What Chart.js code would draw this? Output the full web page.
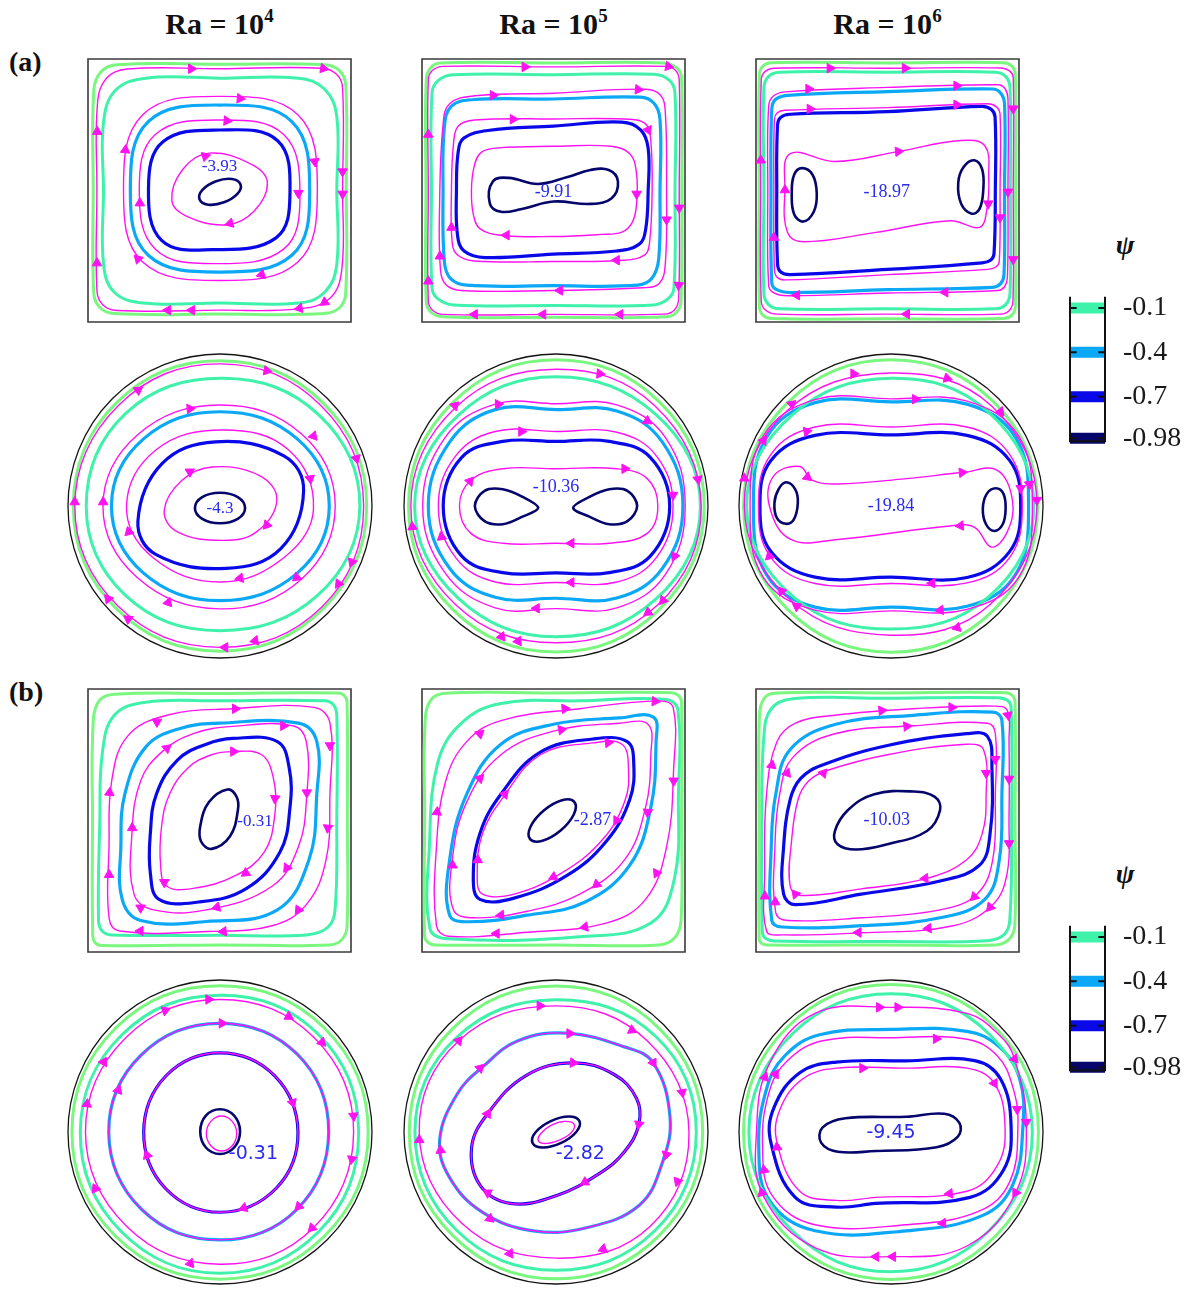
<!DOCTYPE html>
<html>
<head>
<meta charset="utf-8">
<script src="https://cdn.jsdelivr.net/npm/chart.js@4.4.1/dist/chart.umd.min.js"></script>
<style>
  html, body { margin: 0; padding: 0; background: #fff; }
  #page { position: relative; width: 1194px; height: 1289px; overflow: hidden; }
  #page canvas { position: absolute; }
  .hdr { position: absolute; width: 220px; text-align: center; font: bold 30px "Liberation Serif", "Times New Roman", serif; line-height: 30px; color: #111; white-space: nowrap; }
  .hdr sup { font-size: 19px; vertical-align: 12px; line-height: 0; }
  .tag { position: absolute; left: 9px; font: bold 28px "Liberation Serif", serif; line-height: 28px; color: #111; }
  .psi { position: absolute; width: 40px; text-align: center; font: bold italic 28px "Liberation Serif", serif; line-height: 28px; color: #111; }
</style>
</head>
<body>
<div id="page"></div>
<script>
// =========================================================
// Datos: isolineas de la funcion de corriente (coordenadas del dominio)
// cuadrado: x,y en [0,1]; circulo: x,y en [-1,1]. Cada linea = [nivel, x1,y1, x2,y2, ...]
// =========================================================
const raExponents = ['4', '5', '6'];
const rowTags = ['(a)', '(b)'];
const psiLevels = [-0.1, -0.4, -0.7, -0.98];
const psiLabels = ['-0.1', '-0.4', '-0.7', '-0.98'];
const psiRange = [-1.0, -0.025];

// ---------- (a) Ra = 1e4 ----------
const sqA4 = [
  ['g1', [0.5,0.98, 0.9,0.978, 0.957,0.955, 0.98,0.9, 0.982,0.5, 0.98,0.11, 0.957,0.055, 0.9,0.032, 0.5,0.03, 0.1,0.032, 0.045,0.055, 0.022,0.11, 0.02,0.5, 0.022,0.88, 0.048,0.95, 0.11,0.978]],
  ['g2', [0.5,0.927, 0.8,0.927, 0.9,0.885, 0.946,0.78, 0.946,0.5, 0.946,0.22, 0.9,0.113, 0.8,0.072, 0.5,0.072, 0.21,0.072, 0.1,0.113, 0.059,0.22, 0.059,0.5, 0.059,0.76, 0.104,0.88, 0.22,0.927]],
  ['c',  [0.5,0.825, 0.775,0.762, 0.843,0.49, 0.775,0.254, 0.5,0.19, 0.229,0.254, 0.161,0.5, 0.229,0.762]],
  ['b',  [0.5,0.73, 0.72,0.69, 0.768,0.49, 0.715,0.32, 0.47,0.275, 0.28,0.31, 0.23,0.51, 0.285,0.685]],
  ['n',  [0.58,0.523, 0.547,0.544, 0.487,0.535, 0.436,0.503, 0.424,0.467, 0.457,0.446, 0.517,0.455, 0.568,0.487]],
  ['m',  [0.5,0.963, 0.89,0.965, 0.945,0.942, 0.968,0.89, 0.968,0.5, 0.965,0.2, 0.92,0.09, 0.8,0.05, 0.5,0.045, 0.11,0.044, 0.056,0.066, 0.034,0.12, 0.034,0.5, 0.036,0.83, 0.07,0.927, 0.15,0.962]],
  ['m',  [0.5,0.858, 0.798,0.788, 0.872,0.5, 0.798,0.228, 0.5,0.158, 0.208,0.228, 0.135,0.5, 0.208,0.788]],
  ['m',  [0.5,0.768, 0.744,0.713, 0.806,0.48, 0.744,0.277, 0.48,0.222, 0.256,0.277, 0.195,0.5, 0.256,0.713]],
  ['m',  [0.46,0.642, 0.62,0.6, 0.682,0.53, 0.63,0.42, 0.53,0.37, 0.38,0.4, 0.319,0.46, 0.36,0.58]],
];
const sqA4Arrows = [
  [0.393,0.963,90],[0.895,0.964,100],[0.968,0.572,180],[0.968,0.487,180],[0.9,0.075,235],[0.804,0.052,260],[0.395,0.045,270],[0.304,0.045,270],[0.034,0.224,0],[0.035,0.724,0],
  [0.578,0.85,95],[0.862,0.61,175],[0.66,0.18,255],[0.19,0.24,315],[0.142,0.654,5],
  [0.528,0.765,95],[0.8,0.49,180],[0.197,0.452,0],
  [0.446,0.63,75],[0.54,0.375,255]
];
const sqA4Label = [0.5, 0.59, '-3.93'];

const crA4 = [
  ['g1', [0,0.955, 0.68,0.677, 0.965,0, 0.677,-0.677, 0,-0.955, -0.68,-0.677, -0.965,0, -0.68,0.68]],
  ['g2', [0.02,0.84, 0.65,0.6, 0.92,0, 0.64,-0.59, 0,-0.82, -0.62,-0.59, -0.88,0, -0.62,0.61]],
  ['c',  [0,0.62, 0.51,0.44, 0.719,0, 0.51,-0.44, 0,-0.622, -0.505,-0.44, -0.714,0, -0.505,0.44]],
  ['b',  [-0.03,0.422, 0.42,0.33, 0.55,0.1, 0.4,-0.28, 0.04,-0.41, -0.42,-0.32, -0.54,-0.1, -0.38,0.28]],
  ['n',  [0,0.087, 0.117,0.058, 0.165,-0.013, 0.117,-0.084, 0,-0.113, -0.117,-0.084, -0.165,-0.013, -0.117,0.058]],
  ['m',  [0,0.935, 0.665,0.66, 0.945,0, 0.67,-0.665, 0,-0.93, -0.67,-0.66, -0.955,0, -0.665,0.665]],
  ['m',  [0,0.664, 0.537,0.474, 0.758,0, 0.537,-0.48, 0,-0.677, -0.545,-0.47, -0.77,0, -0.54,0.47]],
  ['m',  [0.02,0.5, 0.45,0.37, 0.615,-0.02, 0.42,-0.34, 0,-0.5, -0.44,-0.34, -0.615,0, -0.42,0.37]],
  ['m',  [-0.05,0.257, 0.26,0.2, 0.374,0.04, 0.24,-0.17, 0.02,-0.226, -0.28,-0.17, -0.367,-0.03, -0.25,0.17]],
];
const crA4Arrows = [
  [0.308,0.89,100],[-0.538,0.763,55],[0.897,0.312,165],[0.868,-0.369,200],[0.78,-0.512,215],[0.231,-0.886,260],[0.033,-0.93,270],[-0.604,-0.743,305],[-0.736,-0.611,320],[-0.956,0.026,0],
  [-0.198,0.64,85],[0.615,0.46,140],[0.505,-0.47,230],[-0.341,-0.635,260],[-0.769,0.026,0],
  [0.593,0.18,170],[0.132,-0.475,260],[-0.6,-0.17,345],
  [-0.198,0.225,60],[0.308,-0.125,220]
];
const crA4Label = [0, -0.015, '-4.3'];

// ---------- (a) Ra = 1e5 ----------
const sqA5 = [
  ['g1', [0.5,0.985, 0.92,0.985, 0.969,0.966, 0.987,0.93, 0.988,0.5, 0.985,0.08, 0.968,0.037, 0.93,0.02, 0.5,0.018, 0.08,0.02, 0.034,0.037, 0.016,0.08, 0.015,0.5, 0.016,0.92, 0.033,0.967, 0.07,0.985]],
  ['g2', [0.5,0.94, 0.88,0.942, 0.94,0.92, 0.962,0.87, 0.962,0.5, 0.958,0.13, 0.935,0.088, 0.88,0.065, 0.5,0.063, 0.12,0.065, 0.061,0.088, 0.038,0.13, 0.036,0.5, 0.038,0.87, 0.061,0.918, 0.12,0.94]],
  ['c',  [0.5,0.848, 0.83,0.855, 0.882,0.832, 0.905,0.77, 0.905,0.5, 0.9,0.24, 0.874,0.166, 0.82,0.14, 0.5,0.138, 0.17,0.14, 0.108,0.166, 0.085,0.23, 0.08,0.5, 0.085,0.74, 0.111,0.82, 0.19,0.845]],
  ['b',  [0.5,0.745, 0.76,0.76, 0.832,0.73, 0.86,0.66, 0.86,0.5, 0.85,0.35, 0.825,0.295, 0.74,0.27, 0.5,0.258, 0.24,0.245, 0.16,0.27, 0.135,0.33, 0.131,0.5, 0.138,0.65, 0.16,0.7, 0.25,0.728]],
  ['n',  [0.27,0.535, 0.33,0.548, 0.44,0.525, 0.55,0.55, 0.64,0.578, 0.71,0.578, 0.745,0.535, 0.72,0.47, 0.64,0.449, 0.5,0.458, 0.38,0.43, 0.3,0.419, 0.258,0.45]],
  ['m',  [0.5,0.97, 0.93,0.972, 0.964,0.957, 0.978,0.92, 0.978,0.5, 0.976,0.09, 0.96,0.046, 0.92,0.03, 0.5,0.029, 0.08,0.029, 0.04,0.045, 0.024,0.08, 0.024,0.5, 0.024,0.92, 0.04,0.957, 0.08,0.972]],
  ['m',  [0.5,0.87, 0.85,0.885, 0.907,0.862, 0.925,0.8, 0.93,0.5, 0.925,0.22, 0.902,0.146, 0.84,0.13, 0.5,0.12, 0.15,0.12, 0.09,0.143, 0.07,0.2, 0.067,0.45, 0.08,0.75, 0.105,0.83, 0.2,0.86]],
  ['m',  [0.5,0.772, 0.8,0.77, 0.853,0.75, 0.87,0.69, 0.875,0.5, 0.865,0.3, 0.847,0.255, 0.77,0.235, 0.5,0.23, 0.2,0.232, 0.135,0.255, 0.115,0.3, 0.112,0.5, 0.12,0.68, 0.138,0.745, 0.2,0.768]],
  ['m',  [0.5,0.668, 0.72,0.668, 0.79,0.64, 0.815,0.57, 0.816,0.45, 0.8,0.38, 0.76,0.342, 0.68,0.333, 0.5,0.325, 0.3,0.33, 0.22,0.355, 0.195,0.41, 0.188,0.5, 0.198,0.59, 0.225,0.645, 0.29,0.662]],
];
const sqA5Arrows = [
  [0.391,0.97,90],[0.937,0.972,100],[0.978,0.434,180],[0.976,0.14,185],[0.753,0.029,270],[0.46,0.029,270],[0.2,0.029,270],[0.024,0.155,0],[0.024,0.713,0],
  [0.27,0.862,90],[0.822,0.884,95],[0.93,0.389,180],[0.524,0.12,270],[0.068,0.25,0],
  [0.346,0.771,90],[0.86,0.73,155],[0.74,0.235,270],[0.112,0.359,0],
  [0.816,0.487,180],[0.321,0.33,270]
];
const sqA5Label = [0.5, 0.495, '-9.91'];

const crA5 = [
  ['g1', [0,0.962, 0.685,0.68, 0.975,0, 0.68,-0.68, 0,-0.96, -0.68,-0.68, -0.97,0, -0.68,0.68]],
  ['g2', [0,0.85, 0.66,0.6, 0.95,0, 0.66,-0.61, 0,-0.86, -0.64,-0.61, -0.93,0, -0.64,0.6]],
  ['c',  [-0.4,0.634, 0,0.634, 0.4,0.625, 0.7,0.42, 0.835,0, 0.7,-0.41, 0.4,-0.605, 0,-0.607, -0.4,-0.6, -0.7,-0.41, -0.84,0, -0.7,0.42]],
  ['b',  [-0.35,0.425, 0,0.425, 0.35,0.425, 0.62,0.32, 0.748,0, 0.62,-0.33, 0.35,-0.438, 0,-0.44, -0.35,-0.438, -0.62,-0.33, -0.742,0, -0.62,0.32]],
  ['n',  [-0.117,-0.012, -0.22,0.06, -0.35,0.11, -0.47,0.1, -0.534,0.0, -0.47,-0.1, -0.35,-0.12, -0.22,-0.07], 0.35],
  ['n',  [0.113,-0.012, 0.22,0.06, 0.35,0.11, 0.47,0.1, 0.534,0.0, 0.47,-0.1, 0.35,-0.12, 0.22,-0.07], 0.35],
  ['m',  [0,0.9, 0.65,0.66, 0.955,0, 0.67,-0.65, 0,-0.9, -0.66,-0.65, -0.955,0, -0.66,0.65]],
  ['m',  [-0.4,0.67, 0,0.673, 0.4,0.665, 0.72,0.45, 0.85,0, 0.72,-0.45, 0.4,-0.67, 0,-0.675, -0.4,-0.67, -0.73,-0.44, -0.877,0, -0.73,0.45]],
  ['m',  [-0.4,0.49, 0,0.49, 0.4,0.485, 0.66,0.33, 0.77,0, 0.66,-0.34, 0.4,-0.5, 0,-0.503, -0.4,-0.5, -0.66,-0.34, -0.774,0, -0.66,0.33]],
  ['m',  [-0.35,0.245, 0,0.245, 0.4,0.245, 0.6,0.18, 0.67,0, 0.6,-0.18, 0.35,-0.245, 0,-0.245, -0.35,-0.245, -0.56,-0.18, -0.635,0, -0.56,0.17]],
];
const crA5Arrows = [
  [0.288,0.87,95],[-0.665,0.66,45],[0.934,0.176,170],[0.704,-0.621,220],[0.606,-0.7,235],[-0.249,-0.89,265],[-0.358,-0.86,262],[-0.945,-0.137,355],
  [-0.38,0.67,88],[0.6,0.56,125],[0.78,-0.33,205],[-0.128,-0.673,270],
  [-0.227,0.49,90],[0.77,0.072,180],[0.1,-0.503,270],[-0.753,-0.203,350],
  [0.452,0.245,90],[0.1,-0.245,270],[-0.566,0.163,40]
];
const crA5Label = [0, 0.124, '-10.36'];

// ---------- (a) Ra = 1e6 ----------
const sqA6 = [
  ['g1', [0.5,0.985, 0.94,0.986, 0.973,0.973, 0.986,0.94, 0.987,0.5, 0.986,0.06, 0.973,0.026, 0.94,0.013, 0.5,0.012, 0.06,0.013, 0.026,0.026, 0.013,0.06, 0.012,0.5, 0.013,0.94, 0.026,0.973, 0.06,0.986]],
  ['g2', [0.5,0.95, 0.91,0.95, 0.95,0.933, 0.966,0.89, 0.967,0.5, 0.966,0.11, 0.95,0.067, 0.91,0.05, 0.5,0.05, 0.09,0.05, 0.047,0.067, 0.03,0.11, 0.03,0.5, 0.03,0.89, 0.047,0.933, 0.09,0.95]],
  ['c',  [0.5,0.876, 0.9,0.886, 0.93,0.871, 0.945,0.83, 0.945,0.5, 0.943,0.18, 0.93,0.146, 0.9,0.132, 0.5,0.123, 0.13,0.112, 0.075,0.125, 0.06,0.15, 0.057,0.5, 0.06,0.81, 0.074,0.846, 0.12,0.862]],
  ['b',  [0.5,0.8, 0.86,0.82, 0.895,0.808, 0.909,0.78, 0.91,0.5, 0.905,0.26, 0.893,0.236, 0.86,0.225, 0.5,0.2, 0.13,0.18, 0.094,0.19, 0.082,0.22, 0.079,0.5, 0.082,0.75, 0.094,0.778, 0.13,0.79]],
  ['n',  [0.175,0.585, 0.215,0.56, 0.231,0.49, 0.22,0.42, 0.18,0.382, 0.145,0.41, 0.136,0.49, 0.145,0.56]],
  ['n',  [0.83,0.615, 0.86,0.58, 0.864,0.5, 0.85,0.43, 0.82,0.412, 0.78,0.45, 0.769,0.53, 0.79,0.59]],
  ['m',  [0.5,0.965, 0.93,0.966, 0.964,0.955, 0.978,0.93, 0.978,0.5, 0.977,0.08, 0.963,0.044, 0.93,0.03, 0.5,0.03, 0.08,0.03, 0.037,0.045, 0.02,0.08, 0.018,0.5, 0.02,0.92, 0.034,0.952, 0.07,0.965]],
  ['m',  [0.5,0.892, 0.92,0.902, 0.947,0.887, 0.958,0.85, 0.958,0.5, 0.956,0.17, 0.945,0.134, 0.92,0.12, 0.5,0.11, 0.12,0.1, 0.066,0.112, 0.048,0.14, 0.045,0.5, 0.048,0.82, 0.066,0.859, 0.11,0.875]],
  ['m',  [0.5,0.815, 0.88,0.83, 0.914,0.818, 0.928,0.79, 0.928,0.5, 0.925,0.23, 0.912,0.209, 0.88,0.2, 0.5,0.18, 0.11,0.16, 0.08,0.17, 0.07,0.2, 0.068,0.5, 0.07,0.77, 0.08,0.795, 0.11,0.805]],
  ['m',  [0.13,0.64, 0.3,0.61, 0.54,0.648, 0.78,0.69, 0.87,0.67, 0.885,0.55, 0.878,0.43, 0.85,0.36, 0.74,0.385, 0.45,0.34, 0.18,0.305, 0.12,0.34, 0.11,0.5]],
];
const sqA6Arrows = [
  [0.281,0.965,90],[0.567,0.965,90],[0.978,0.811,180],[0.978,0.238,180],[0.573,0.03,270],[0.018,0.615,0],
  [0.2,0.886,90],[0.763,0.898,90],[0.958,0.495,180],[0.719,0.113,270],[0.155,0.102,270],
  [0.205,0.81,90],[0.763,0.826,90],[0.928,0.397,180],[0.068,0.321,0],
  [0.541,0.648,85],[0.883,0.45,180],[0.11,0.502,0]
];
const sqA6Label = [0.497, 0.495, '-18.97'];

const crA6 = [
  ['g1', [0,0.962, 0.68,0.68, 0.965,0, 0.68,-0.68, 0,-0.962, -0.68,-0.68, -0.97,0, -0.68,0.68]],
  ['g2', [0,0.84, 0.64,0.62, 0.94,0, 0.64,-0.6, 0,-0.81, -0.64,-0.6, -0.95,0, -0.65,0.6]],
  ['c',  [-0.5,0.68, 0,0.685, 0.5,0.67, 0.82,0.45, 0.905,0, 0.82,-0.45, 0.5,-0.66, 0,-0.665, -0.5,-0.665, -0.82,-0.45, -0.905,0, -0.82,0.45]],
  ['b',  [-0.5,0.465, 0,0.468, 0.5,0.465, 0.78,0.3, 0.853,0, 0.78,-0.3, 0.5,-0.47, 0,-0.468, -0.5,-0.468, -0.79,-0.3, -0.862,0, -0.79,0.3]],
  ['n',  [-0.69,0.156, -0.63,0.11, -0.613,0.02, -0.64,-0.09, -0.69,-0.117, -0.75,-0.08, -0.767,0.02, -0.74,0.11]],
  ['n',  [0.69,0.117, 0.74,0.08, 0.754,-0.02, 0.735,-0.12, 0.68,-0.164, 0.625,-0.12, 0.604,-0.02, 0.63,0.08]],
  ['m',  [0,0.875, 0.66,0.66, 0.96,0, 0.65,-0.65, 0,-0.85, -0.66,-0.62, -0.965,0, -0.68,0.63]],
  ['m',  [-0.5,0.7, 0,0.705, 0.5,0.69, 0.84,0.46, 0.93,0, 0.84,-0.47, 0.5,-0.68, 0,-0.69, -0.5,-0.685, -0.84,-0.47, -0.927,0, -0.84,0.46]],
  ['m',  [-0.5,0.52, 0,0.52, 0.5,0.52, 0.78,0.34, 0.864,0, 0.78,-0.34, 0.5,-0.506, 0,-0.51, -0.5,-0.51, -0.79,-0.34, -0.872,0, -0.79,0.34]],
  ['m',  [-0.6,0.26, -0.52,0.17, -0.35,0.145, 0.1,0.18, 0.47,0.22, 0.7,0.235, 0.8,0.03, 0.76,-0.18, 0.66,-0.27, 0.55,-0.14, 0.4,-0.13, -0.35,-0.22, -0.66,-0.22, -0.8,0.0, -0.77,0.2]],
];
const crA6Arrows = [
  [-0.246,0.87,90],[0.369,0.84,105],[0.72,0.62,140],[0.96,0.039,180],[0.435,-0.8,255],[-0.965,0.182,0],[-0.653,0.67,50],[-0.62,-0.66,305],
  [0.16,0.703,90],[0.91,0.143,175],[0.325,-0.685,265],[-0.84,0.43,35],[-0.72,-0.56,320],
  [-0.554,0.49,80],[0.853,0.117,180],[0.27,-0.508,270],[-0.8,-0.33,345],
  [-0.55,0.19,130],[0.468,0.22,85],[0.457,-0.13,265]
];
const crA6Label = [0, 0, '-19.84'];

// ---------- (b) Ra = 1e4 ----------
const sqB4 = [
  ['g1', [0.5,0.983, 0.95,0.985, 0.975,0.975, 0.985,0.95, 0.986,0.5, 0.985,0.1, 0.966,0.048, 0.92,0.027, 0.5,0.027, 0.05,0.025, 0.027,0.035, 0.018,0.06, 0.017,0.5, 0.02,0.88, 0.044,0.957, 0.1,0.98]],
  ['g2', [0.5,0.955, 0.9,0.955, 0.933,0.94, 0.946,0.9, 0.946,0.5, 0.94,0.17, 0.914,0.096, 0.83,0.065, 0.5,0.064, 0.09,0.065, 0.054,0.08, 0.04,0.12, 0.045,0.5, 0.055,0.76, 0.1,0.9, 0.22,0.95]],
  ['c',  [0.5,0.87, 0.8,0.87, 0.87,0.8, 0.87,0.6, 0.84,0.35, 0.72,0.16, 0.45,0.116, 0.2,0.12, 0.13,0.2, 0.125,0.4, 0.14,0.6, 0.22,0.78, 0.35,0.85]],
  ['b',  [0.55,0.812, 0.72,0.8, 0.765,0.7, 0.768,0.55, 0.73,0.38, 0.6,0.24, 0.42,0.19, 0.27,0.2, 0.237,0.3, 0.237,0.45, 0.26,0.6, 0.34,0.73, 0.45,0.79]],
  ['n',  [0.53,0.618, 0.565,0.59, 0.57,0.54, 0.54,0.44, 0.47,0.392, 0.43,0.42, 0.427,0.48, 0.46,0.57]],
  ['m',  [0.55,0.925, 0.86,0.93, 0.92,0.87, 0.92,0.6, 0.905,0.35, 0.83,0.18, 0.7,0.1, 0.45,0.078, 0.12,0.08, 0.08,0.13, 0.08,0.4, 0.09,0.65, 0.15,0.82, 0.3,0.9]],
  ['m',  [0.55,0.858, 0.78,0.86, 0.83,0.8, 0.832,0.6, 0.8,0.4, 0.7,0.25, 0.45,0.16, 0.25,0.16, 0.175,0.22, 0.167,0.45, 0.2,0.65, 0.28,0.76, 0.4,0.83]],
  ['m',  [0.55,0.762, 0.66,0.75, 0.705,0.66, 0.71,0.52, 0.67,0.38, 0.56,0.29, 0.4,0.242, 0.3,0.25, 0.276,0.33, 0.28,0.48, 0.31,0.6, 0.38,0.7, 0.47,0.75]],
];
const sqB4Arrows = [
  [0.56,0.925,90],[0.262,0.875,60],[0.082,0.606,5],[0.08,0.294,0],[0.199,0.08,270],[0.515,0.078,265],[0.8,0.16,215],[0.912,0.472,185],[0.92,0.785,180],
  [0.743,0.86,90],[0.832,0.606,180],[0.756,0.32,215],[0.49,0.17,255],[0.2,0.168,300],[0.168,0.472,0],[0.3,0.775,50],
  [0.553,0.762,90],[0.711,0.584,185],[0.6,0.3,235],[0.29,0.265,300]
];
const sqB4Label = [0.635, 0.495, '-0.31'];

const crB4Ring = [0,0.715, 0.51,0.51, 0.715,0, 0.505,-0.51, 0,-0.71, -0.515,-0.51, -0.732,0, -0.52,0.505];
const crB4Core = [0,0.521, 0.36,0.37, 0.513,0, 0.37,-0.37, 0,-0.528, -0.36,-0.37, -0.502,0, -0.355,0.37];
const crB4 = [
  ['g1', [0,0.962, 0.686,0.684, 0.975,0, 0.686,-0.686, 0,-0.968, -0.686,-0.686, -0.974,0, -0.686,0.684]],
  ['g2', [0,0.9, 0.645,0.645, 0.912,0, 0.65,-0.655, 0,-0.93, -0.65,-0.655, -0.919,0, -0.645,0.64]],
  ['c',  crB4Ring],
  ['b',  crB4Core],
  ['n',  [0,0.15, 0.093,0.108, 0.132,0.003, 0.093,-0.102, 0,-0.145, -0.093,-0.102, -0.13,0.003, -0.093,0.108]],
  ['m',  [0,0.872, 0.62,0.62, 0.879,0, 0.615,-0.63, 0,-0.87, -0.615,-0.62, -0.885,0, -0.62,0.62]],
  ['m',  crB4Ring],
  ['m',  crB4Core],
  ['m',  [0.01,0.105, 0.08,0.07, 0.11,-0.01, 0.08,-0.09, 0.01,-0.125, -0.06,-0.09, -0.09,-0.01, -0.06,0.07]],
];
const crB4Arrows = [
  [-0.075,0.872,90],[0.452,0.76,120],[-0.36,0.8,70],[-0.765,0.46,30],[0.671,0.59,135],[0.879,0.106,175],[0.868,-0.179,190],[0.605,-0.632,225],[-0.195,-0.865,260],[-0.82,-0.373,335],[-0.875,0.184,5],
  [0.013,0.715,90],[-0.67,0.275,20],[0.518,-0.49,225],
  [0.478,0.193,160],[0.156,-0.5,250],[-0.48,-0.153,340]
];
const crB4Label = [0.22, -0.145, '-0.31'];

// ---------- (b) Ra = 1e5 ----------
const sqB5 = [
  ['g1', [0.5,0.985, 0.95,0.986, 0.976,0.975, 0.987,0.95, 0.987,0.5, 0.985,0.12, 0.96,0.053, 0.9,0.027, 0.5,0.027, 0.05,0.027, 0.022,0.037, 0.01,0.06, 0.01,0.5, 0.012,0.88, 0.035,0.96, 0.09,0.984]],
  ['g2', [0.3,0.945, 0.6,0.955, 0.93,0.96, 0.973,0.92, 0.975,0.6, 0.96,0.28, 0.87,0.11, 0.6,0.058, 0.1,0.05, 0.03,0.09, 0.028,0.4, 0.06,0.72, 0.15,0.87]],
  ['c',  [0.3,0.79, 0.5,0.866, 0.75,0.89, 0.88,0.893, 0.89,0.8, 0.87,0.55, 0.79,0.33, 0.62,0.19, 0.4,0.14, 0.18,0.115, 0.105,0.14, 0.105,0.35, 0.17,0.6]],
  ['b',  [0.45,0.76, 0.65,0.81, 0.78,0.8, 0.805,0.72, 0.79,0.58, 0.7,0.42, 0.55,0.29, 0.35,0.205, 0.22,0.2, 0.195,0.28, 0.22,0.45, 0.3,0.6]],
  ['n',  [0.579,0.571, 0.532,0.577, 0.463,0.538, 0.413,0.477, 0.411,0.429, 0.458,0.423, 0.527,0.462, 0.577,0.523]],
  ['m',  [0.3,0.88, 0.6,0.925, 0.9,0.955, 0.955,0.93, 0.957,0.7, 0.93,0.4, 0.85,0.2, 0.7,0.11, 0.4,0.075, 0.1,0.06, 0.055,0.1, 0.055,0.4, 0.09,0.65, 0.17,0.8]],
  ['m',  [0.3,0.75, 0.5,0.84, 0.75,0.87, 0.86,0.865, 0.87,0.75, 0.85,0.55, 0.77,0.35, 0.6,0.22, 0.4,0.155, 0.2,0.13, 0.12,0.16, 0.115,0.35, 0.17,0.57]],
  ['m',  [0.45,0.75, 0.65,0.795, 0.76,0.79, 0.785,0.7, 0.77,0.57, 0.68,0.42, 0.53,0.3, 0.35,0.22, 0.23,0.22, 0.21,0.29, 0.23,0.45, 0.31,0.59]],
];
const sqB5Arrows = [
  [0.543,0.925,85],[0.886,0.953,95],[0.22,0.83,50],[0.057,0.532,5],[0.283,0.07,270],[0.619,0.095,260],[0.957,0.651,180],[0.892,0.3,205],
  [0.53,0.845,80],[0.22,0.66,45],[0.858,0.532,185],[0.664,0.257,230],[0.3,0.14,265],[0.116,0.33,0],
  [0.708,0.796,85],[0.74,0.5,210],[0.5,0.285,245],[0.212,0.35,0],[0.315,0.6,40]
];
const sqB5Label = [0.648, 0.5, '-2.87'];

const crB5Ring = [0.07,0.65, 0.45,0.56, 0.64,0.455, 0.75,0.1, 0.7,-0.2, 0.55,-0.48, 0.2,-0.63, -0.15,-0.65, -0.48,-0.53, -0.7,-0.3, -0.765,-0.05, -0.65,0.25, -0.48,0.43, -0.25,0.6];
const crB5Core = [0.113,0.455, 0.38,0.38, 0.53,0.22, 0.545,0.05, 0.45,-0.13, 0.29,-0.27, 0.0,-0.42, -0.3,-0.47, -0.5,-0.35, -0.555,-0.1, -0.45,0.12, -0.2,0.37];
const crB5 = [
  ['g1', [0,0.96, 0.68,0.68, 0.965,0, 0.68,-0.68, 0,-0.965, -0.68,-0.68, -0.965,0, -0.68,0.68]],
  ['g2', [0,0.87, 0.655,0.63, 0.923,0, 0.655,-0.645, 0,-0.909, -0.656,-0.645, -0.928,0, -0.656,0.62]],
  ['c',  crB5Ring],
  ['b',  crB5Core],
  ['n',  [0.154,0.072, 0.085,0.102, -0.034,0.072, -0.133,0, -0.154,-0.072, -0.085,-0.102, 0.034,-0.072, 0.133,0]],
  ['m',  [0,0.83, 0.6,0.6, 0.875,0, 0.62,-0.62, 0,-0.83, -0.62,-0.6, -0.9,0, -0.64,0.6]],
  ['m',  crB5Ring],
  ['m',  crB5Core],
  ['m',  [0.12,0.05, 0.06,0.07, -0.03,0.045, -0.1,-0.01, -0.115,-0.06, -0.06,-0.075, 0.03,-0.05, 0.1,-0.005]],
];
const crB5Arrows = [
  [-0.106,0.83,90],[0.5,0.67,115],[0.83,0.26,170],[0.8,-0.325,200],[0.31,-0.77,250],[-0.304,-0.8,265],[-0.9,-0.052,0],[-0.64,0.6,40],
  [0.09,0.648,90],[0.64,0.455,150],[0.725,-0.15,195],[-0.435,-0.57,250],[-0.76,-0.12,355],[-0.5,0.42,45],
  [0.113,0.455,95],[0.545,0.05,190],[0.19,-0.33,240],[-0.45,-0.4,300],[-0.45,0.12,30]
];
const crB5Label = [0.16, -0.148, '-2.82'];

// ---------- (b) Ra = 1e6 ----------
const sqB6 = [
  ['g1', [0.5,0.985, 0.95,0.986, 0.975,0.975, 0.985,0.95, 0.985,0.5, 0.984,0.1, 0.962,0.048, 0.91,0.027, 0.5,0.027, 0.04,0.027, 0.02,0.034, 0.012,0.05, 0.012,0.5, 0.013,0.9, 0.03,0.963, 0.07,0.984]],
  ['g2', [0.5,0.965, 0.92,0.967, 0.957,0.956, 0.97,0.93, 0.972,0.5, 0.965,0.12, 0.943,0.066, 0.88,0.043, 0.5,0.04, 0.07,0.042, 0.035,0.053, 0.024,0.08, 0.022,0.5, 0.03,0.82, 0.058,0.925, 0.14,0.963]],
  ['c',  [0.3,0.865, 0.6,0.9, 0.9,0.912, 0.935,0.88, 0.935,0.6, 0.925,0.35, 0.87,0.2, 0.7,0.13, 0.4,0.1, 0.1,0.095, 0.06,0.12, 0.058,0.4, 0.075,0.6, 0.13,0.77]],
  ['b',  [0.25,0.71, 0.5,0.785, 0.8,0.83, 0.88,0.82, 0.897,0.7, 0.89,0.45, 0.85,0.33, 0.7,0.27, 0.4,0.22, 0.15,0.18, 0.105,0.22, 0.105,0.4, 0.13,0.58, 0.17,0.66]],
  ['n',  [0.45,0.6, 0.6,0.61, 0.68,0.59, 0.7,0.54, 0.65,0.46, 0.5,0.41, 0.38,0.39, 0.31,0.41, 0.3,0.46, 0.35,0.54]],
  ['m',  [0.3,0.9, 0.6,0.925, 0.9,0.935, 0.955,0.92, 0.962,0.8, 0.962,0.5, 0.955,0.3, 0.9,0.18, 0.75,0.1, 0.4,0.073, 0.1,0.065, 0.04,0.08, 0.033,0.3, 0.04,0.6, 0.08,0.8, 0.15,0.87]],
  ['m',  [0.3,0.83, 0.6,0.86, 0.88,0.87, 0.91,0.83, 0.91,0.6, 0.9,0.35, 0.84,0.22, 0.7,0.16, 0.4,0.13, 0.12,0.12, 0.075,0.15, 0.072,0.4, 0.09,0.6, 0.14,0.74]],
  ['m',  [0.27,0.69, 0.5,0.75, 0.8,0.79, 0.865,0.77, 0.875,0.6, 0.86,0.45, 0.8,0.35, 0.65,0.28, 0.4,0.24, 0.17,0.215, 0.13,0.25, 0.135,0.42, 0.16,0.58, 0.2,0.65]],
];
const sqB6Arrows = [
  [0.478,0.918,85],[0.744,0.93,90],[0.958,0.9,170],[0.962,0.658,180],[0.962,0.413,180],[0.89,0.17,220],[0.655,0.09,265],[0.389,0.074,270],[0.034,0.212,0],[0.06,0.71,10],
  [0.573,0.858,85],[0.118,0.68,20],[0.91,0.733,180],[0.83,0.21,225],[0.073,0.19,0],
  [0.256,0.68,40],[0.875,0.68,180],[0.643,0.28,265],[0.15,0.22,320]
];
const sqB6Label = [0.497, 0.5, '-10.03'];

const crB6 = [
  ['g1', [0,0.97, 0.686,0.686, 0.97,0, 0.686,-0.686, 0,-0.97, -0.686,-0.686, -0.97,0, -0.686,0.686]],
  ['g2', [0,0.91, 0.645,0.645, 0.93,0, 0.645,-0.65, 0,-0.92, -0.65,-0.65, -0.935,0, -0.65,0.645]],
  ['c',  [-0.47,0.64, 0,0.675, 0.5,0.662, 0.714,0.558, 0.846,0.351, 0.868,0.039, 0.8,-0.35, 0.6,-0.55, 0.1,-0.65, -0.5,-0.65, -0.8,-0.45, -0.87,-0.1, -0.82,0.28, -0.7,0.5]],
  ['b',  [-0.36,0.46, 0.1,0.468, 0.55,0.47, 0.72,0.35, 0.79,0.04, 0.74,-0.25, 0.52,-0.43, -0.1,-0.47, -0.36,-0.494, -0.63,-0.43, -0.79,-0.07, -0.77,0.16, -0.6,0.39]],
  ['n',  [-0.3,0.09, 0.1,0.1, 0.35,0.12, 0.45,0.06, 0.44,-0.03, 0.3,-0.1, -0.1,-0.125, -0.35,-0.13, -0.46,-0.07, -0.45,0.03]],
  ['m',  [-0.5,0.78, 0,0.82, 0.5,0.78, 0.714,0.636, 0.813,0.481, 0.89,0.05, 0.82,-0.4, 0.5,-0.75, 0,-0.82, -0.5,-0.76, -0.84,-0.42, -0.885,0, -0.8,0.45]],
  ['m',  [-0.45,0.6, 0,0.62, 0.5,0.61, 0.7,0.5, 0.8,0.3, 0.835,0.04, 0.78,-0.33, 0.58,-0.52, 0.1,-0.61, -0.5,-0.61, -0.78,-0.42, -0.845,-0.1, -0.8,0.27, -0.68,0.47]],
  ['m',  [-0.36,0.42, 0.1,0.42, 0.5,0.42, 0.68,0.32, 0.75,0.04, 0.7,-0.22, 0.5,-0.39, -0.1,-0.43, -0.36,-0.45, -0.6,-0.39, -0.75,-0.07, -0.73,0.15, -0.58,0.35]],
];
const crB6Arrows = [
  [-0.077,0.82,90],[0.044,0.82,90],[0.813,0.481,140],[0.89,0.065,180],[0.82,-0.4,210],[-0.099,-0.82,270],[0.011,-0.82,270],[-0.83,0.36,20],[-0.85,-0.4,345],
  [0.297,0.613,90],[0.341,-0.6,265],[-0.76,0.38,30],[-0.835,-0.25,350],[0.83,0.15,180],
  [-0.187,0.42,90],[0.68,0.32,150],[0.385,-0.405,265],[-0.75,-0.1,355]
];
const crB6Label = [0, -0.01, '-9.45'];

// =========================================================
// Estilos
// =========================================================
const COLORS = { g1: '#7af77f', g2: '#3ef2ab', c: '#0aa8f7', b: '#0808e8', n: '#05056c', m: '#ff12f2' };
const WIDTHS = { g1: 3, g2: 3, c: 3.2, b: 3.2, n: 2.6, m: 1.4 };
const bandColors = [COLORS.g2, COLORS.c, COLORS.b, COLORS.n];
const valueBlue = '#2a2af0';
const serifFont = '"Liberation Serif", "Times New Roman", serif';
const sansFont = '"DejaVu Sans", Verdana, sans-serif';

const page = document.getElementById('page');

// texto de valor dentro de cada panel (en coordenadas de datos)
const panelText = {
  id: 'panelText',
  afterDatasetsDraw(chart, args, opts) {
    if (!opts || !opts.text) return;
    const { ctx, scales } = chart;
    ctx.save();
    ctx.font = opts.font;
    ctx.fillStyle = valueBlue;
    ctx.textAlign = 'center';
    ctx.textBaseline = 'middle';
    ctx.fillText(opts.text, scales.x.getPixelForValue(opts.x), scales.y.getPixelForValue(opts.y));
    ctx.restore();
  }
};

function toPoints(flat) {
  const p = [];
  for (let i = 0; i < flat.length; i += 2) p.push({ x: flat[i], y: flat[i + 1] });
  return p;
}

// linea cerrada suave: se repiten puntos en los extremos y se ocultan los segmentos sobrantes
function closedLine(level, flat, tension) {
  const p = toPoints(flat);
  const n = p.length;
  return {
    data: [p[n - 1], ...p, p[0], p[1]],
    showLine: true,
    pointRadius: 0,
    borderColor: COLORS[level],
    borderWidth: WIDTHS[level],
    tension: tension ?? 0.4,
    fill: false,
    clip: false,
    segment: {
      borderColor: ctx => (ctx.p0DataIndex === 0 || ctx.p0DataIndex === n + 1) ? 'rgba(0,0,0,0)' : undefined
    }
  };
}

function arrowSet(list) {
  return {
    data: list.map(a => ({ x: a[0], y: a[1] })),
    showLine: false,
    pointStyle: 'triangle',
    pointRadius: 5.5,
    pointRotation: list.map(a => a[2]),
    pointBackgroundColor: COLORS.m,
    pointBorderColor: COLORS.m,
    pointBorderWidth: 1,
    clip: false
  };
}

function drawPanel(kind, left, top, contours, arrows, label, font) {
  const size = kind === 'sq' ? 263 : 304;
  const pad = 8;
  const cv = document.createElement('canvas');
  cv.width = size + 2 * pad;
  cv.height = size + 2 * pad;
  cv.style.left = (left - pad) + 'px';
  cv.style.top = (top - pad) + 'px';
  page.appendChild(cv);

  const lo = kind === 'sq' ? 0 : -1;
  const colored = contours.filter(c => c[0] !== 'm').map(c => closedLine(c[0], c[1], c[2]));
  const stream = contours.filter(c => c[0] === 'm').map(c => closedLine('m', c[1], c[2]));
  const frame = kind === 'sq'
    ? { data: [{x:0,y:0},{x:0,y:1},{x:1,y:1},{x:1,y:0},{x:0,y:0}], showLine: true, tension: 0, pointRadius: 0,
        borderColor: '#3a3a3a', borderWidth: 1.6, borderCapStyle: 'square', clip: false }
    : { data: [{x:0,y:0}], showLine: false, pointStyle: 'circle', pointRadius: size / 2,
        pointBackgroundColor: 'rgba(0,0,0,0)', pointBorderColor: '#151515', pointBorderWidth: 1.3, clip: false };

  // el primer dataset se dibuja encima
  const datasets = [arrowSet(arrows), ...stream, ...colored, frame];

  new Chart(cv, {
    type: 'scatter',
    data: { datasets },
    options: {
      responsive: false,
      animation: false,
      events: [],
      layout: { padding: pad, autoPadding: false },
      scales: {
        x: { type: 'linear', min: lo, max: 1, display: false },
        y: { type: 'linear', min: lo, max: 1, display: false }
      },
      plugins: {
        legend: { display: false },
        tooltip: { enabled: false },
        panelText: { x: label[0], y: label[1], text: label[2], font }
      }
    },
    plugins: [panelText]
  });
}

function drawColorbar(top) {
  const cv = document.createElement('canvas');
  cv.width = 134;
  cv.height = 214;
  cv.style.left = '1060px';
  cv.style.top = (top - 14) + 'px';
  page.appendChild(cv);

  const [vMin, vMax] = psiRange;
  const bands = psiLevels.map((v, i) => ({
    data: [{ x: 0, y: v }, { x: 1, y: v }], showLine: true, pointRadius: 0,
    borderColor: bandColors[i], borderWidth: 11, borderCapStyle: 'butt', clip: false
  }));
  const dashes = {
    data: psiLevels.flatMap(v => [{ x: 0.09, y: v }, { x: 0.91, y: v }]),
    showLine: false, pointStyle: 'line', pointRadius: 3.5, pointBorderWidth: 2, pointBorderColor: '#111'
  };
  const box = {
    data: [{ x: 0, y: vMax }, { x: 0, y: vMin }, { x: 1, y: vMin }, { x: 1, y: vMax }],
    showLine: true, tension: 0, pointRadius: 0, borderColor: '#111', borderWidth: 2, clip: false
  };

  new Chart(cv, {
    type: 'scatter',
    data: { datasets: [dashes, box, ...bands] },
    options: {
      responsive: false,
      animation: false,
      events: [],
      layout: { padding: { left: 10, right: 0, top: 14, bottom: 11 }, autoPadding: false },
      scales: {
        x: { type: 'linear', min: 0, max: 1, display: false },
        y: {
          type: 'linear', min: vMin, max: vMax, position: 'right',
          afterFit: s => { s.width = 89; },
          afterBuildTicks: s => { s.ticks = psiLevels.map(v => ({ value: v })); },
          grid: { display: false, drawTicks: false },
          border: { display: false },
          ticks: {
            autoSkip: false, padding: 18, color: '#1a1a1a',
            font: { family: serifFont, size: 28 },
            callback: v => psiLabels[psiLevels.indexOf(v)]
          }
        }
      },
      plugins: { legend: { display: false }, tooltip: { enabled: false } }
    }
  });

  const psi = document.createElement('div');
  psi.className = 'psi';
  psi.textContent = 'ψ';
  psi.style.left = '1105px';
  psi.style.top = (top - 45) + 'px';
  page.appendChild(psi);
}

// =========================================================
// Composicion de la figura
// =========================================================
const colLeft = [88, 422, 756];
const colCenter = [219.5, 556, 890.5];
const sqTop = [59, 689];
const crCenterY = [505.5, 1132];
const crR = 152;

raExponents.forEach((e, i) => {
  const d = document.createElement('div');
  d.className = 'hdr';
  d.innerHTML = 'Ra = 10<sup>' + e + '</sup>';
  d.style.left = (colLeft[i] + 131.5 - 110) + 'px';
  d.style.top = '9px';
  page.appendChild(d);
});
rowTags.forEach((t, i) => {
  const d = document.createElement('div');
  d.className = 'tag';
  d.textContent = t;
  d.style.top = (sqTop[i] - 11) + 'px';
  page.appendChild(d);
});

const labelSerif = '18px ' + serifFont;
const labelSans = '19px ' + sansFont;

drawPanel('sq', colLeft[0], sqTop[0], sqA4, sqA4Arrows, sqA4Label, '17px ' + serifFont);
drawPanel('sq', colLeft[1], sqTop[0], sqA5, sqA5Arrows, sqA5Label, labelSerif);
drawPanel('sq', colLeft[2], sqTop[0], sqA6, sqA6Arrows, sqA6Label, labelSerif);
drawPanel('cr', colCenter[0] - crR, crCenterY[0] - crR, crA4, crA4Arrows, crA4Label, '17px ' + serifFont);
drawPanel('cr', colCenter[1] - crR, crCenterY[0] - crR, crA5, crA5Arrows, crA5Label, labelSerif);
drawPanel('cr', colCenter[2] - crR, crCenterY[0] - crR, crA6, crA6Arrows, crA6Label, labelSerif);

drawPanel('sq', colLeft[0], sqTop[1], sqB4, sqB4Arrows, sqB4Label, '17px ' + serifFont);
drawPanel('sq', colLeft[1], sqTop[1], sqB5, sqB5Arrows, sqB5Label, labelSerif);
drawPanel('sq', colLeft[2], sqTop[1], sqB6, sqB6Arrows, sqB6Label, labelSerif);
drawPanel('cr', colCenter[0] - crR, crCenterY[1] - crR, crB4, crB4Arrows, crB4Label, labelSans);
drawPanel('cr', colCenter[1] - crR, crCenterY[1] - crR, crB5, crB5Arrows, crB5Label, labelSans);
drawPanel('cr', colCenter[2] - crR, crCenterY[1] - crR, crB6, crB6Arrows, crB6Label, labelSans);

drawColorbar(276);
drawColorbar(905);
</script>
</body>
</html>
